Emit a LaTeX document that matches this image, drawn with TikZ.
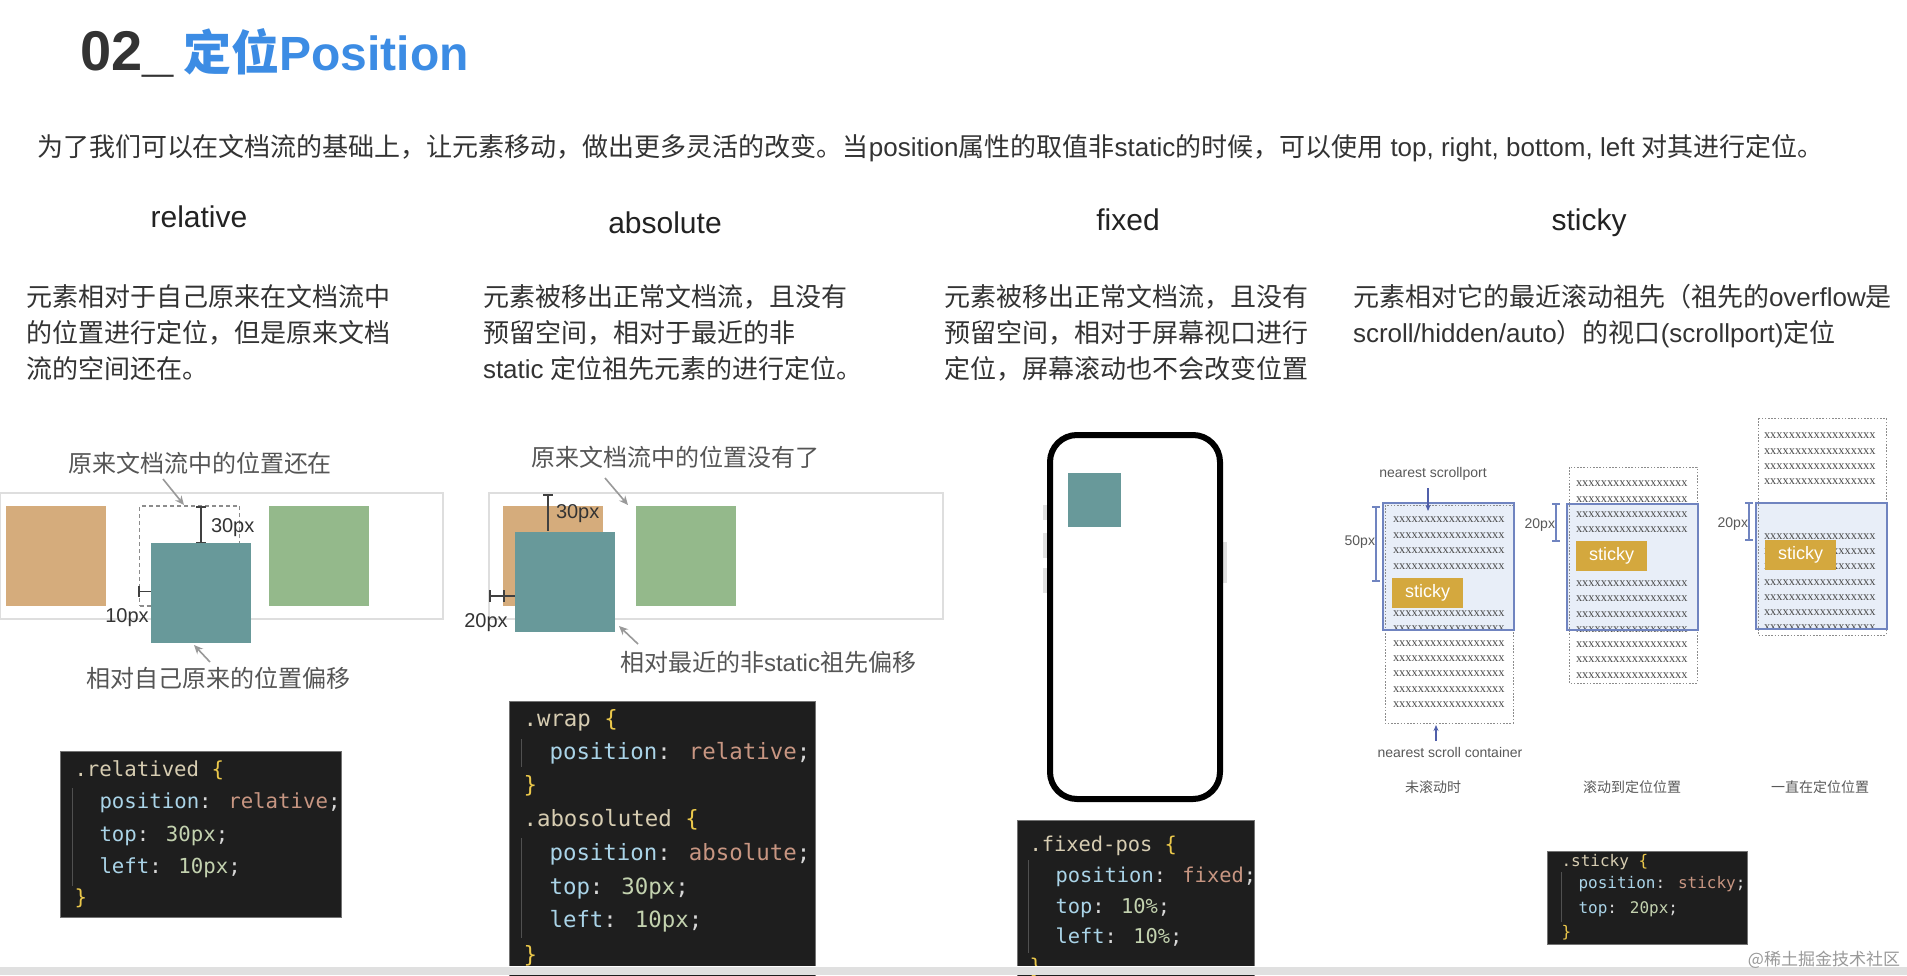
\documentclass[tikz,border=0pt]{standalone}
\usepackage{fontspec}
\setmainfont{Noto Sans CJK SC}
\newfontfamily\lat{Liberation Sans}
\newfontfamily\mono{DejaVu Sans Mono}
\newfontfamily\ser{Liberation Serif}
\usetikzlibrary{arrows.meta}
\newcommand\fsz[1]{\fontsize{#1}{#1}\selectfont}
\newcommand\xrow{xxxxxxxxxxxxxxxxxx}
\definecolor{txt}{HTML}{333333}
\definecolor{hd}{HTML}{222222}
\definecolor{lb}{HTML}{555555}
\definecolor{dk}{HTML}{333333}
\definecolor{tblue}{HTML}{3C8CE4}
\definecolor{ctan}{RGB}{213,172,124}
\definecolor{cteal}{RGB}{104,153,154}
\definecolor{cgrn}{RGB}{148,185,139}
\definecolor{codebg}{HTML}{1E1E1E}
\definecolor{csel}{RGB}{215,205,178}
\definecolor{cbr}{RGB}{235,200,75}
\definecolor{cprop}{RGB}{170,212,232}
\definecolor{cval}{RGB}{200,150,130}
\definecolor{cnum}{RGB}{195,210,175}
\definecolor{cpun}{RGB}{215,215,215}
\definecolor{spfill}{RGB}{232,238,248}
\definecolor{spline}{RGB}{112,132,192}
\definecolor{gold}{RGB}{212,168,62}
\definecolor{arrblue}{RGB}{80,95,170}
\newcommand\cs[1]{\textcolor{csel}{#1}}
\newcommand\cb[1]{\textcolor{cbr}{#1}}
\newcommand\cp[1]{\textcolor{cprop}{#1}}
\newcommand\cv[1]{\textcolor{cval}{#1}}
\newcommand\cn[1]{\textcolor{cnum}{#1}}
\newcommand\cu[1]{\textcolor{cpun}{#1}}
\tikzset{
  head/.style={anchor=base, text=hd, font=\lat\fsz{30}},
  desc/.style={anchor=base west, text=txt, font=\fsz{26}},
  lbl/.style={anchor=base, text=lb, font=\fsz{24}},
  pxl/.style={text=dk, font=\lat\fsz{20}},
  sqbox/.style={minimum width=100pt, minimum height=100pt},
  cont/.style={draw=black!13, line width=1.2pt},
  dashbox/.style={draw=black!45, line width=1.1pt, dash pattern=on 4pt off 3pt},
  dimln/.style={draw=black!75, line width=1.4pt},
  garr/.style={draw=black!40, line width=1.6pt, -{Stealth[length=9pt,width=8pt]}},
  codebox/.style={fill=codebg, draw=black!55, line width=0.8pt},
  guide/.style={draw=white!22!codebg, line width=0.8pt},
  sdash/.style={draw=black!45, line width=0.8pt, dash pattern=on 1.6pt off 1.6pt},
  xr/.style={anchor=west, font=\ser\fsz{12.4}, text=black!70},
  stk/.style={anchor=north west, fill=gold, text=white, font=\lat\fsz{18}, minimum width=71pt, minimum height=30pt},
  sdim/.style={draw=spline, line width=1.1pt},
  slbl/.style={font=\lat\fsz{14}, text=black!65},
  clbl/.style={anchor=base, font=\fsz{14}, text=black!65},
  barr/.style={draw=arrblue, line width=1.1pt, -{Stealth[length=6pt,width=5pt]}},
}
\begin{document}
\begin{tikzpicture}[x=1pt,y=-1pt, every node/.style={inner sep=0pt,outer sep=0pt}]
\useasboundingbox (0,0) rectangle (1907,975);
\fill[white] (0,0) rectangle (1907,975);

% ---------- title and intro ----------
\node[anchor=base west] (title) at (80,70) {\bfseries\textcolor{dk}{\lat\fsz{56}02\_}\hspace{10pt}\textcolor{tblue}{\fsz{48}定位{\lat Position}}};
\node[anchor=base west, text=txt, font=\fsz{26}] (intro) at (37,156) {为了我们可以在文档流的基础上，让元素移动，做出更多灵活的改变。当{\lat position}属性的取值非{\lat static}的时候，可以使用{\lat\ top, right, bottom, left }对其进行定位。};

% ---------- headings ----------
\node[head] (h1) at (199,227) {relative};
\node[head] (h2) at (665,233) {absolute};
\node[head] (h3) at (1128,230) {fixed};
\node[head] (h4) at (1589,230) {sticky};

% ---------- descriptions ----------
\node[desc] (d1a) at (27,306) {元素相对于自己原来在文档流中};
\node[desc] (d1b) at (27,342) {的位置进行定位，但是原来文档};
\node[desc] (d1c) at (27,378) {流的空间还在。};
\node[desc] (d2a) at (483,306) {元素被移出正常文档流，且没有};
\node[desc] (d2b) at (483,342) {预留空间，相对于最近的非};
\node[desc] (d2c) at (483,378) {{\lat static }定位祖先元素的进行定位。};
\node[desc] (d3a) at (944,306) {元素被移出正常文档流，且没有};
\node[desc] (d3b) at (944,342) {预留空间，相对于屏幕视口进行};
\node[desc] (d3c) at (944,378) {定位，屏幕滚动也不会改变位置};
\node[desc] (d4a) at (1353,306) {元素相对它的最近滚动祖先（祖先的{\lat overflow}是};
\node[desc] (d4b) at (1353,342) {{\lat scroll/hidden/auto}）的视口{\lat (scrollport)}定位};

% ---------- relative diagram ----------
\draw[cont] (0,493) rectangle (443,619);
\node[sqbox, fill=ctan] (rtan) at (56,556) {};
\node[sqbox, fill=cgrn] (rgrn) at (318.5,556) {};
\node[sqbox, dashbox] (rdash) at (189.5,556) {};
\draw[dimln] (196,507) -- (206,507) (201,507) -- (201,543) (196,543) -- (206,543);
\node[pxl, anchor=base west] (r30) at (211,532) {30px};
\node[sqbox, fill=cteal] (rteal) at (200.5,593) {};
\draw[dimln] (139,586) -- (139,597) (139,591.5) -- (151,591.5);
\node[pxl, anchor=base] (r10) at (127,622) {10px};
\node[lbl] (rl1) at (200,472) {原来文档流中的位置还在};
\node[lbl] (rl2) at (218,687) {相对自己原来的位置偏移};
\coordinate (ra1s) at (163,479); \coordinate (ra1e) at (184,505);
\coordinate (ra2s) at (210,662); \coordinate (ra2e) at (194,645);
\draw[garr] (ra1s) -- (ra1e);
\draw[garr] (ra2s) -- (ra2e);

% ---------- absolute diagram ----------
\draw[cont] (489,493) rectangle (943,619);
\node[sqbox, fill=ctan] (atan) at (553,556) {};
\node[sqbox, fill=cgrn] (agrn) at (686,556) {};
\draw[dimln] (543,495) -- (553,495) (548,495) -- (548,531);
\node[pxl, anchor=base west] (a30) at (556,518) {30px};
\draw[dimln] (490,590) -- (490,602) (490,596) -- (515,596) (504,590) -- (504,602);
\node[sqbox, fill=cteal] (ateal) at (565,581.5) {};
\node[pxl, anchor=base] (a20) at (486,627) {20px};
\node[lbl] (al1) at (675,466) {原来文档流中的位置没有了};
\node[lbl, anchor=base west] (al2) at (620,671) {相对最近的非{\lat static}祖先偏移};
\coordinate (aa1s) at (605,478); \coordinate (aa1e) at (628,505);
\coordinate (aa2s) at (638,644); \coordinate (aa2e) at (619,626);
\draw[garr] (aa1s) -- (aa1e);
\draw[garr] (aa2s) -- (aa2e);

% ---------- fixed: phone ----------
\fill[black!12] (1043,505) rectangle (1047,520);
\fill[black!12] (1043,533) rectangle (1047,558);
\fill[black!12] (1043,568) rectangle (1047,593);
\fill[black!12] (1223,542) rectangle (1227,583);
\draw[line width=6pt, rounded corners=27pt] (1050,435) rectangle (1220,799);
\node[fill=cteal, minimum width=53pt, minimum height=54pt] (fteal) at (1094.5,500) {};

% ---------- sticky diagrams ----------
% diagram 1
\fill[spfill] (1383,503) rectangle (1514,630);
\draw[sdash] (1385,505) rectangle (1513,723);
\foreach \y [count=\i] in {520,535.7,551,566.3,613.3,628.7,643.3,658.3,674,689.3,704.7}
  \node[xr] (sar\i) at (1393,\y) {\xrow};
\node[stk] (sas) at (1392,578) {sticky};
\draw[spline, line width=1.4pt] (1383,503) rectangle (1514,630);
\draw[sdim] (1372,507) -- (1380,507) (1376,507) -- (1376,581) (1372,581) -- (1380,581);
\node[slbl, anchor=base east] (sa50) at (1375,545) {50px};
\node[slbl, anchor=base] (sal1) at (1433,477) {nearest scrollport};
\node[slbl, anchor=base] (sal2) at (1450,757) {nearest scroll container};
\coordinate (sa1s) at (1428,488); \coordinate (sa1e) at (1428,511);
\coordinate (sa2s) at (1436,741); \coordinate (sa2e) at (1436,725);
\draw[barr] (sa1s) -- (sa1e);
\draw[barr] (sa2s) -- (sa2e);
\node[clbl] (sac) at (1433,792) {未滚动时};
% diagram 2
\fill[spfill] (1567,504) rectangle (1698,630);
\draw[sdash] (1569,467) rectangle (1697,683);
\foreach \y [count=\i] in {483.3,499.3,514.3,529.7,584,599,614.3,630,645,660,675.7}
  \node[xr] (sbr\i) at (1576,\y) {\xrow};
\node[stk] (sbs) at (1576,541) {sticky};
\draw[spline, line width=1.4pt] (1567,504) rectangle (1698,630);
\draw[sdim] (1552,504) -- (1560,504) (1556,504) -- (1556,541) (1552,541) -- (1560,541);
\node[slbl, anchor=base east] (sb20) at (1555,528) {20px};
\node[clbl] (sbc) at (1632,792) {滚动到定位位置};
% diagram 3
\fill[spfill] (1756,503) rectangle (1887,629);
\draw[sdash] (1758,418) rectangle (1886,635);
\foreach \y [count=\i] in {436,451.3,466.7,482,536.7,551.7,566.7,582.3,597.3,612.7,627.3}
  \node[xr] (scr\i) at (1764,\y) {\xrow};
\node[stk] (scs) at (1765,540) {sticky};
\draw[spline, line width=1.4pt] (1756,503) rectangle (1887,629);
\draw[sdim] (1745,503) -- (1753,503) (1749,503) -- (1749,540) (1745,540) -- (1753,540);
\node[slbl, anchor=base east] (sc20) at (1748,527) {20px};
\node[clbl] (scc) at (1820,792) {一直在定位位置};

% ---------- code blocks ----------
% relative
\draw[codebox] (60,751) rectangle (341,917);
\draw[guide] (72,788) -- (72,886);
\begin{scope}[every node/.style={anchor=base west, font=\mono\fsz{20.7}}]
\node (rc1) at (71,776) {\cs{.relatived} \cb{\{}};
\node (rc2) at (96,808) {\cp{position}\cu{:} \cv{relative}\cu{;}};
\node (rc3) at (96,841) {\cp{top}\cu{:} \cn{30px}\cu{;}};
\node (rc4) at (96,873) {\cp{left}\cu{:} \cn{10px}\cu{;}};
\node (rc5) at (71,904) {\cb{\}}};
\end{scope}
% absolute
\draw[codebox] (509,701) rectangle (815,980);
\draw[guide] (521,739) -- (521,767);
\draw[guide] (521,838) -- (521,938);
\begin{scope}[every node/.style={anchor=base west, font=\mono\fsz{22.4}}]
\node (ac1) at (520,726) {\cs{.wrap} \cb{\{}};
\node (ac2) at (546,759) {\cp{position}\cu{:} \cv{relative}\cu{;}};
\node (ac3) at (520,792) {\cb{\}}};
\node (ac4) at (520,826) {\cs{.abosoluted} \cb{\{}};
\node (ac5) at (546,860) {\cp{position}\cu{:} \cv{absolute}\cu{;}};
\node (ac6) at (546,894) {\cp{top}\cu{:} \cn{30px}\cu{;}};
\node (ac7) at (546,927) {\cp{left}\cu{:} \cn{10px}\cu{;}};
\node (ac8) at (520,962) {\cb{\}}};
\end{scope}
% fixed
\draw[codebox] (1017,820) rectangle (1254,980);
\draw[guide] (1028,860) -- (1028,953);
\begin{scope}[every node/.style={anchor=base west, font=\mono\fsz{20.4}}]
\node (fc1) at (1026,851) {\cs{.fixed-pos} \cb{\{}};
\node (fc2) at (1052,882) {\cp{position}\cu{:} \cv{fixed}\cu{;}};
\node (fc3) at (1052,913) {\cp{top}\cu{:} \cn{10\%}\cu{;}};
\node (fc4) at (1052,943) {\cp{left}\cu{:} \cn{10\%}\cu{;}};
\node (fc5) at (1026,973) {\cb{\}}};
\end{scope}
% sticky
\draw[codebox] (1547,851) rectangle (1747,944);
\draw[guide] (1561,872) -- (1561,922);
\begin{scope}[every node/.style={anchor=base west, font=\mono\fsz{16}}]
\node (sc1) at (1558,866) {\cs{.sticky} \cb{\{}};
\node (sc2) at (1575,888) {\cp{position}\cu{:} \cv{sticky}\cu{;}};
\node (sc3) at (1575,913) {\cp{top}\cu{:} \cn{20px}\cu{;}};
\node (sc4) at (1558,937) {\cb{\}}};
\end{scope}

% ---------- bottom bar and watermark ----------
\fill[black!12] (0,967) rectangle (1907,975);
\draw[white, line width=1pt] (0,966.5) -- (1907,966.5);
\node[anchor=base east, font=\fsz{17}, text=black!40] (wm) at (1900,965) {@稀土掘金技术社区};
\end{tikzpicture}
\end{document}
